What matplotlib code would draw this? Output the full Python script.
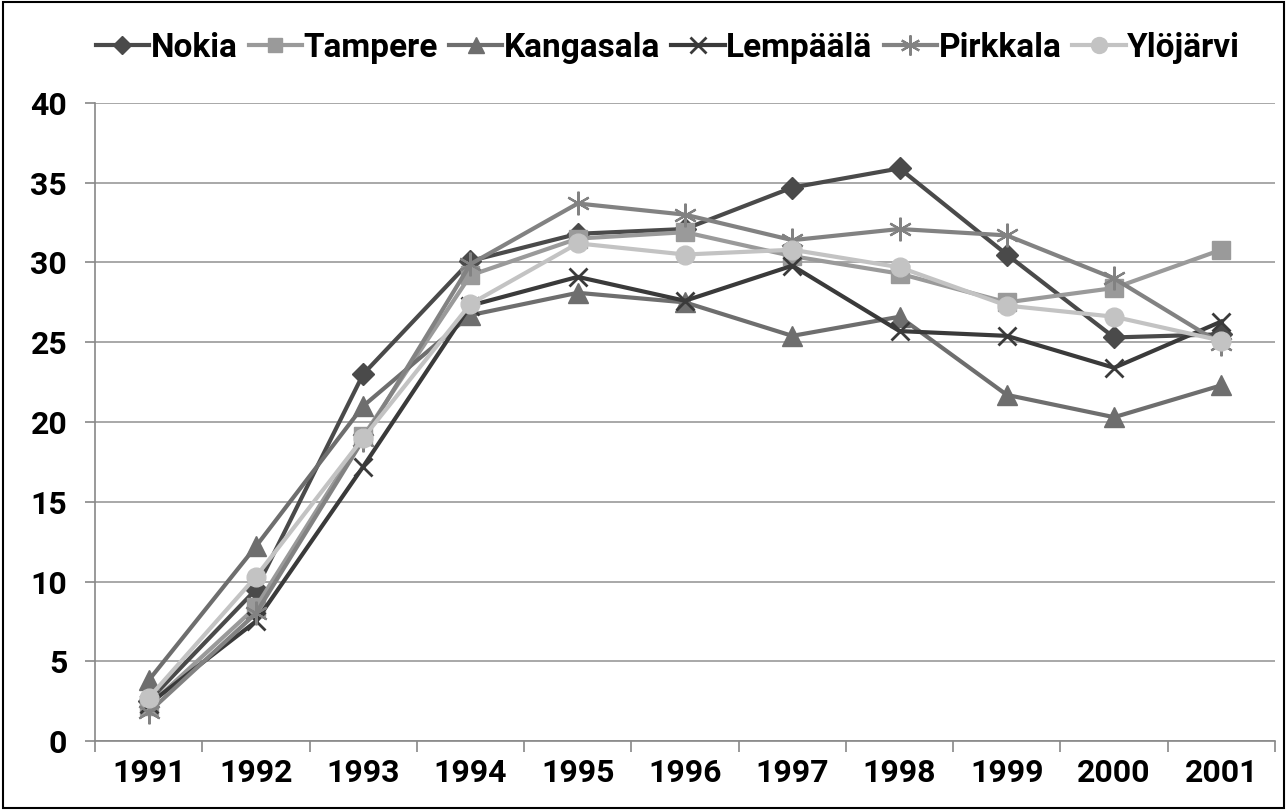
import matplotlib.pyplot as plt
from matplotlib.ticker import FixedLocator

# data
years = ['1991', '1992', '1993', '1994', '1995', '1996', '1997', '1998', '1999', '2000', '2001']
nokia = [2.5, 9.5, 23.0, 30.1, 31.8, 32.1, 34.7, 35.9, 30.5, 25.3, 25.5]
tampere = [2.2, 8.4, 19.1, 29.2, 31.5, 31.9, 30.4, 29.3, 27.5, 28.4, 30.8]
kangasala = [3.8, 12.2, 21.0, 26.7, 28.1, 27.5, 25.4, 26.6, 21.7, 20.3, 22.3]
lempaala = [2.3, 7.5, 17.2, 27.3, 29.1, 27.6, 29.8, 25.7, 25.4, 23.4, 26.3]
pirkkala = [1.8, 8.0, 18.9, 29.9, 33.7, 33.0, 31.4, 32.1, 31.7, 29.0, 24.9]
ylojarvi = [2.7, 10.3, 19.0, 27.4, 31.2, 30.5, 30.8, 29.7, 27.3, 26.6, 25.1]

series = [
    ('Nokia', nokia, '#4a4a4a', 'D', 11),
    ('Tampere', tampere, '#9a9a9a', 's', 12.5),
    ('Kangasala', kangasala, '#6e6e6e', '^', 14),
    ('Lempäälä', lempaala, '#3a3a3a', 'x', 13),
    ('Pirkkala', pirkkala, '#828282', '1', 0),
    ('Ylöjärvi', ylojarvi, '#c3c3c3', 'o', 13.5),
]

plt.rcParams['font.family'] = ['Roboto', 'DejaVu Sans']
plt.rcParams['font.weight'] = 'bold'

fig = plt.figure(figsize=(12.87, 8.10), dpi=100)
ax = fig.add_axes([95 / 1287, 1 - 741 / 810, 1180 / 1287, 638 / 810])

x = list(range(len(years)))
for name, vals, col, mk, ms in series:
    if name == 'Pirkkala':
        # asterisk-like marker
        ax.plot(x, vals, color=col, lw=3, marker=(6, 2, 0), ms=17, mew=1.6,
                label=name, zorder=3)
    elif mk == 'x':
        ax.plot(x, vals, color=col, lw=3, marker='x', ms=ms, mew=2,
                label=name, zorder=3)
    else:
        ax.plot(x, vals, color=col, lw=3, marker=mk, ms=ms, mec=col,
                label=name, zorder=3)

ax.set_xlim(-0.5, len(years) - 0.5)
ax.set_ylim(0, 40)
ax.set_yticks(range(0, 41, 5))
ax.set_xticks(x)
ax.set_xticklabels(years)
ax.xaxis.set_minor_locator(FixedLocator([i - 0.5 for i in range(len(years) + 1)]))
ax.tick_params(axis='x', which='major', length=0, pad=12, labelsize=23)
ax.tick_params(axis='x', which='minor', length=8, color='#888888', width=1.2)
ax.tick_params(axis='y', length=7, color='#888888', width=1.2, pad=13, labelsize=23)

ax.grid(axis='y', color='#9a9a9a', lw=1.2, zorder=0)
for s in ['top', 'right']:
    ax.spines[s].set_visible(False)
for s in ['left', 'bottom']:
    ax.spines[s].set_color('#888888')
    ax.spines[s].set_linewidth(1.2)

fig.legend(loc='center', bbox_to_anchor=(0.519, 1 - 48 / 810), ncol=6, frameon=False,
           fontsize=24, handlelength=1.6, handletextpad=0.05, columnspacing=0.33,
           markerscale=0.85)

# outer frame
fig.patches.append(plt.Rectangle((0.002, 0.002), 0.996, 0.996, transform=fig.transFigure,
                                 fill=False, edgecolor='black', lw=1.5))

fig.savefig('out.png', dpi=100)
